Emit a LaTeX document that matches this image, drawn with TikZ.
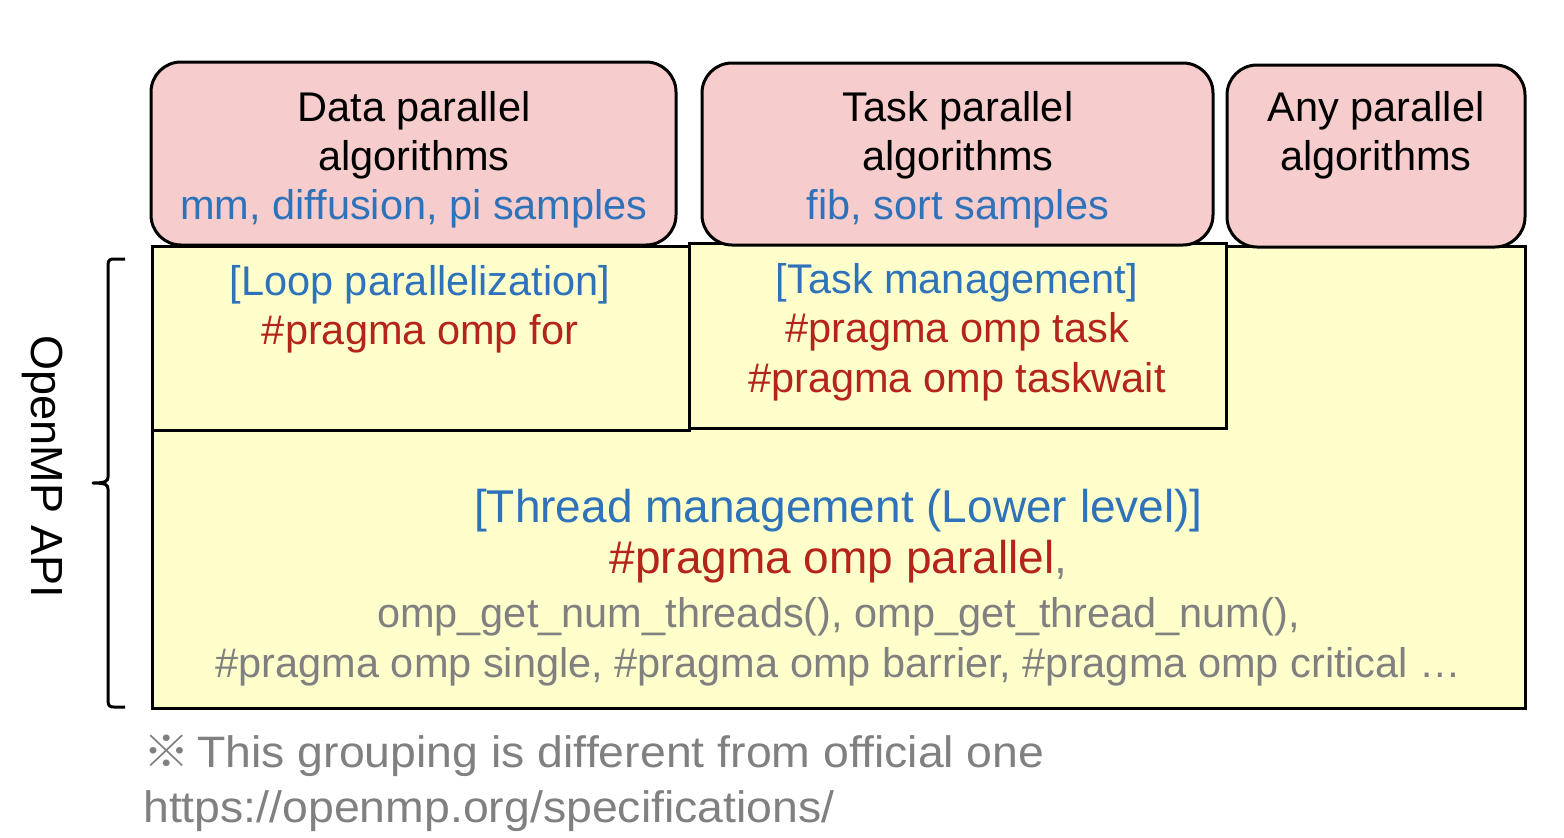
\documentclass[tikz,border=0pt]{standalone}
\usepackage{fontspec}
\setmainfont{Liberation Sans}
\newfontfamily\cjkfont{Noto Sans CJK JP}
\definecolor{pinkfill}{RGB}{247,204,204}
\definecolor{yellowfill}{RGB}{255,255,204}
\definecolor{txtblue}{RGB}{46,114,186}
\definecolor{txtred}{RGB}{180,36,26}
\definecolor{txtgray}{RGB}{128,128,128}
\tikzset{
  pinkbox/.style={draw=black, line width=3pt, fill=pinkfill, rounded corners=30pt, inner sep=0pt, outer sep=0pt},
  ybox/.style={draw=black, line width=3pt, fill=yellowfill, inner sep=0pt, outer sep=0pt},
  tl/.style={anchor=base, inner sep=0pt, font=\fontsize{41.5}{49}\selectfont},
  tbig/.style={anchor=base, inner sep=0pt, font=\fontsize{46}{55}\selectfont},
  notetxt/.style={anchor=base west, inner sep=0pt, text=txtgray, xscale=1.055, font=\fontsize{44}{53}\selectfont},
}
\begin{document}
\begin{tikzpicture}[x=1pt,y=-1pt]
\useasboundingbox (0,0) rectangle (1564,838);
% yellow boxes
\node[ybox, minimum width=1373pt, minimum height=462pt] (thread) at (838.5,477) {};
\node[ybox, minimum width=537pt, minimum height=184pt] (loop) at (420.5,338) {};
\node[ybox, minimum width=537pt, minimum height=185pt] (taskm) at (957.5,335.5) {};
% pink boxes
\node[pinkbox, minimum width=525pt, minimum height=183pt] (data) at (413.5,153.5) {};
\node[pinkbox, minimum width=511pt, minimum height=182pt] (task) at (957.5,154) {};
\node[pinkbox, minimum width=298pt, minimum height=182pt] (any) at (1376,156) {};
% pink texts
\node[tl] (d1) at (414,121) {Data parallel};
\node[tl] (d2) at (414,170) {algorithms};
\node[tl, text=txtblue] (d3) at (414,219) {mm, diffusion, pi samples};
\node[tl] (t1) at (958,121) {Task parallel};
\node[tl] (t2) at (958,170) {algorithms};
\node[tl, text=txtblue] (t3) at (958,219) {fib, sort samples};
\node[tl] (a1) at (1376,121) {Any parallel};
\node[tl] (a2) at (1376,170) {algorithms};
% loop texts
\node[tl, text=txtblue] (l1) at (420,295) {[Loop parallelization]};
\node[tl, text=txtred] (l2) at (420,344) {\#pragma omp for};
% task management texts
\node[tl, text=txtblue] (m1) at (957,293) {[Task management]};
\node[tl, text=txtred] (m2) at (957,342) {\#pragma omp task};
\node[tl, text=txtred] (m3) at (957,392) {\#pragma omp taskwait};
% thread texts
\node[tbig, text=txtblue] (h1) at (838.5,522) {[Thread management (Lower level)]};
\node[tbig] (h2) at (838.5,573) {\textcolor{txtred}{\#pragma omp parallel}\textcolor{txtgray}{,}};
\node[tl, text=txtgray] (h3) at (838.5,627) {omp\_get\_num\_threads(), omp\_get\_thread\_num(),};
\node[tl, text=txtgray] (h4) at (838.5,677) {\#pragma omp single, \#pragma omp barrier, \#pragma omp critical …};
% brace
\draw[line width=3pt, line join=round] (125,259) -- (114,259) .. controls (110,259) and (108,260) .. (108,265) -- (108,477) .. controls (108,481) and (106,483) .. (93,483)
  .. controls (106,483) and (108,485) .. (108,489) -- (108,701) .. controls (108,706) and (110,707) .. (114,707) -- (125,707);
\node[anchor=base, inner sep=0pt, rotate=-90, font=\fontsize{45}{54}\selectfont] (api) at (31,467) {OpenMP API};
% note
\node[notetxt] (n1) at (143,767) {{\cjkfont ※}\,This grouping is different from official one};
\node[notetxt] (n2) at (143,822) {https://openmp.org/specifications/};
\end{tikzpicture}
\end{document}
